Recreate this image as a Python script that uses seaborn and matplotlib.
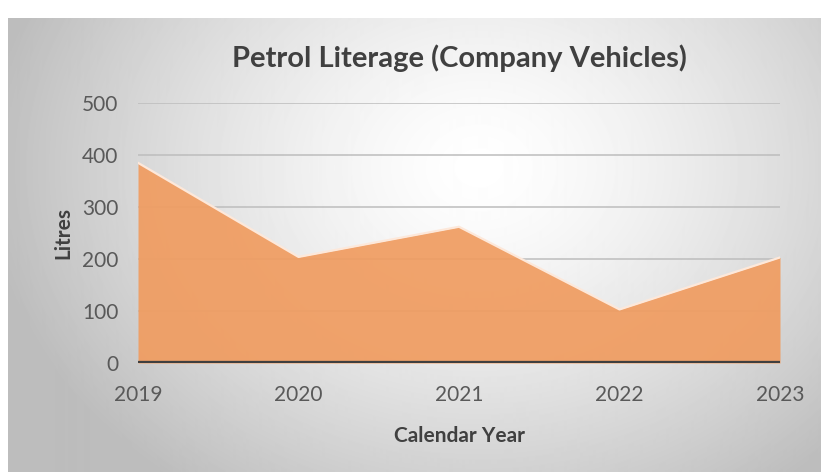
import numpy as np
import pandas as pd
import matplotlib.pyplot as plt
import seaborn as sns

# data
years = [2019, 2020, 2021, 2022, 2023]
litres = [385, 204, 262, 103, 203]
y_ticks = [0, 100, 200, 300, 400, 500]

df = pd.DataFrame({"year": years, "litres": litres})

sns.set_style("white")
plt.rcParams["font.family"] = ["Lato", "DejaVu Sans"]

fig = plt.figure(figsize=(8.21, 4.72), dpi=100)
fig.patch.set_facecolor("white")

# radial gradient panel behind the chart
bg = fig.add_axes([8 / 821, 0, 813 / 821, 454 / 472])
h, w = 454, 813
yy, xx = np.mgrid[0:h, 0:w]
d = np.sqrt(((xx - 470) / 520) ** 2 + ((yy - 150) / 420) ** 2)
shade = np.clip(1 - 0.28 * d ** 1.4, 0.74, 1)
bg.imshow(shade, cmap="gray", vmin=0, vmax=1, aspect="auto", interpolation="bilinear")
bg.set_axis_off()

ax = fig.add_axes([138 / 821, 109 / 472, 642 / 821, 260 / 472])
ax.patch.set_alpha(0)

for t in y_ticks[1:]:
    ax.axhline(t, color="#bdbdbd", lw=1.1, zorder=1)

ax.fill_between(df["year"], 0, df["litres"], color="#f09c60", alpha=0.92, lw=0, zorder=2)
sns.lineplot(data=df, x="year", y="litres", color="#fde8da", lw=1.6, ax=ax, zorder=3)
ax.axhline(0, color="#3f3f3f", lw=3.8, zorder=4)

ax.set_xlim(2019, 2023)
ax.set_ylim(0, 500)
ax.set_xticks(years)
ax.set_yticks(y_ticks)
ax.tick_params(axis="both", length=0, labelsize=15, labelcolor="#595959")
ax.tick_params(axis="x", pad=16)
ax.tick_params(axis="y", pad=14)
for s in ax.spines.values():
    s.set_visible(False)

ax.set_xlabel("Calendar Year", fontsize=15, fontweight="bold", color="#404040", labelpad=15)
ax.set_ylabel("Litres", fontsize=15, fontweight="bold", color="#404040", labelpad=6)
fig.text(459 / 821, 1 - 58 / 472, "Petrol Literage (Company Vehicles)", ha="center", va="center",
         fontsize=21, fontweight="bold", color="#404040")

plt.savefig("out.png", dpi=100)
